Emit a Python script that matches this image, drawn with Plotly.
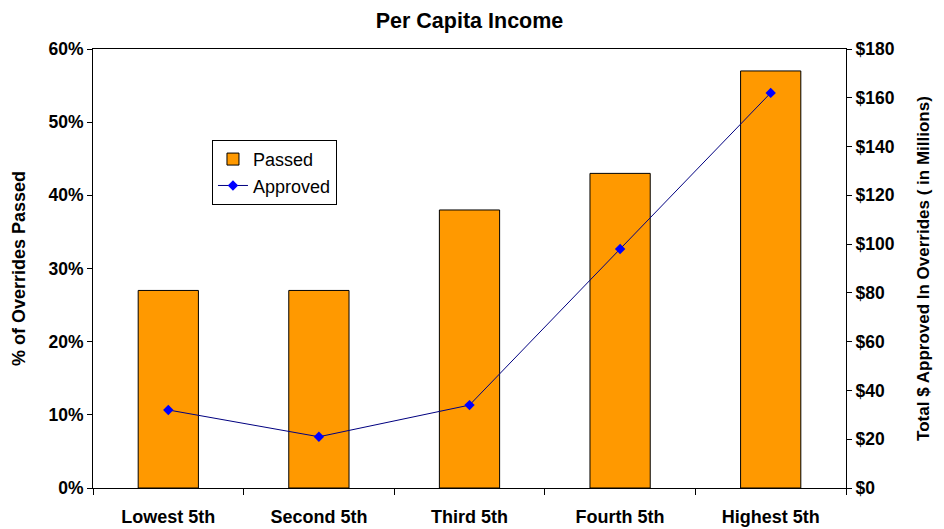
import plotly.graph_objects as go

categories = ["Lowest 5th", "Second 5th", "Third 5th", "Fourth 5th", "Highest 5th"]
passed_pct = [27, 27, 38, 43, 57]
approved_millions = [32, 21, 34, 98, 162]

FONT = "Liberation Sans, Arial, sans-serif"

fig = go.Figure()
fig.add_trace(go.Bar(
    x=categories, y=passed_pct, name="Passed",
    marker=dict(color="#FF9900", line=dict(color="black", width=1)),
    width=0.4, yaxis="y",
))
fig.add_trace(go.Scatter(
    x=categories, y=approved_millions, name="Approved", yaxis="y2",
    mode="lines+markers",
    line=dict(color="#000080", width=1),
    marker=dict(symbol="diamond", size=8, color="#0000FF"),
))

# page body has an 8px default margin, so the figure is sized to fit the window
fig.update_layout(
    width=936, height=521,
    margin=dict(l=85, r=98, t=41, b=41, autoexpand=False),
    paper_bgcolor="white", plot_bgcolor="white",
    font=dict(family=FONT, color="black"),
    title=dict(text="<b>Per Capita Income</b>", x=0.5, xanchor="center",
               xref="paper", y=0.977, yanchor="middle",
               font=dict(size=21.5, family=FONT)),
    showlegend=True,
    legend=dict(x=0.158, y=0.793, xanchor="left", yanchor="top",
                bgcolor="white", bordercolor="black", borderwidth=1,
                font=dict(size=18, family=FONT), tracegroupgap=0),
    bargap=0.6,
    xaxis=dict(
        type="category", showline=True, linecolor="black", linewidth=1,
        mirror=True, ticks="outside", ticklen=6, tickcolor="black",
        tickson="boundaries", showgrid=False, automargin=False,
        tickfont=dict(size=18, family=FONT), ticklabelstandoff=12,
        tickprefix="<b>", ticksuffix="</b>",
    ),
    yaxis=dict(
        range=[0, 60], dtick=10, ticksuffix="%</b>", tickprefix="<b>",
        showline=True, linecolor="black", linewidth=1, automargin=False,
        ticks="outside", ticklen=5, tickcolor="black", showgrid=False,
        zeroline=False, tickfont=dict(size=17.5, family=FONT),
        title=dict(text="<b>% of Overrides Passed</b>", font=dict(size=18, family=FONT), standoff=18),
    ),
    yaxis2=dict(
        range=[0, 180], dtick=20, tickprefix="<b>$", ticksuffix="</b>",
        overlaying="y", side="right", automargin=False,
        showline=True, linecolor="black", linewidth=1,
        ticks="outside", ticklen=5, tickcolor="black", showgrid=False,
        zeroline=False, tickfont=dict(size=17.5, family=FONT),
        title=dict(text="<b>Total $ Approved In Overrides ( in Millions)</b>",
                   font=dict(size=17, family=FONT), standoff=23),
    ),
)

fig.write_html("out.html")
